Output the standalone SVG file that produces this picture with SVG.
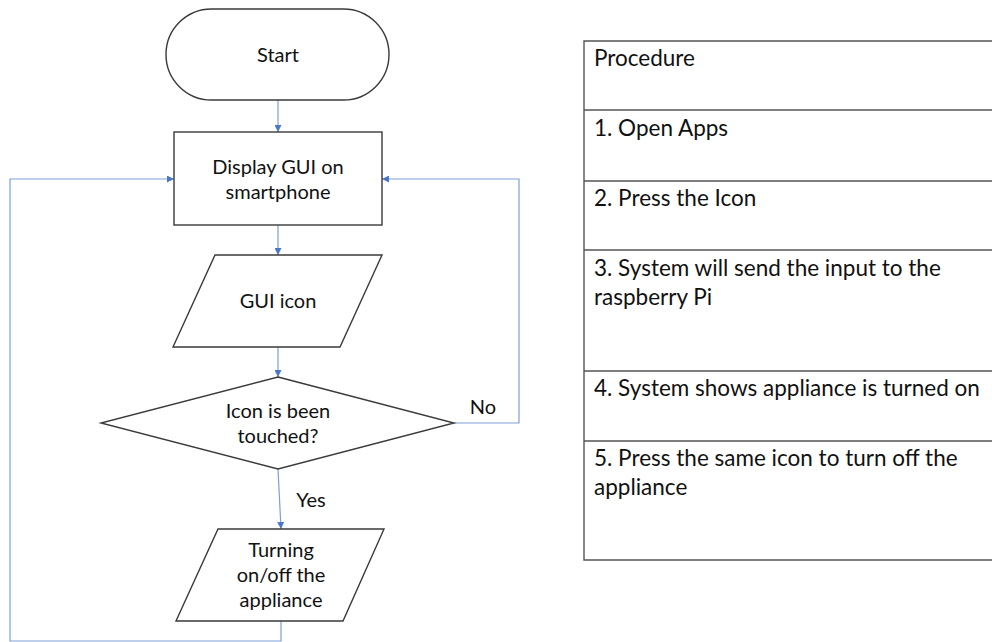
<svg xmlns="http://www.w3.org/2000/svg" width="992" height="642" viewBox="0 0 992 642">
<defs>
<style>
.shape{fill:#fff;stroke:#3a3a3a;stroke-width:1.4}
.conn{fill:none;stroke:#7e9fd8;stroke-width:1.2}
.t{font-family:Lato,"Open Sans",sans-serif;font-size:20px;fill:#111;text-anchor:middle}
.tt{font-family:Lato,"Open Sans",sans-serif;font-size:22.5px;fill:#111}
.grid{fill:none;stroke:#555;stroke-width:1.4}
</style>
<marker id="ah" viewBox="0 0 10 10" refX="10" refY="5" markerWidth="7" markerHeight="7" markerUnits="userSpaceOnUse" orient="auto">
<path d="M0,0 L10,5 L0,10 z" fill="#4a78c8"/>
</marker>
</defs>
<rect width="992" height="642" fill="#fff"/>
<g id="connectors">
<line class="conn" x1="278" y1="100" x2="278" y2="132" marker-end="url(#ah)"/>
<line class="conn" x1="278" y1="225" x2="278" y2="255" marker-end="url(#ah)"/>
<line class="conn" x1="278" y1="347" x2="278" y2="377" marker-end="url(#ah)"/>
<line class="conn" x1="278" y1="469" x2="281" y2="529" marker-end="url(#ah)"/>
<polyline class="conn" points="454,423 519,423 519,179 382,179" marker-end="url(#ah)"/>
<polyline class="conn" points="281,621 281,641 10,641 10,179 174,179" marker-end="url(#ah)"/>
<text class="t" x="483" y="414">No</text>
<text class="t" x="311" y="507">Yes</text>
</g>
<g id="start">
<rect class="shape" x="166" y="9" width="223" height="91" rx="45.5" ry="45.5"/>
<text class="t" x="278" y="62">Start</text>
</g>
<g id="display">
<rect class="shape" x="174" y="132" width="208" height="93"/>
<text class="t" x="278" y="174">Display GUI on</text>
<text class="t" x="278" y="199">smartphone</text>
</g>
<g id="guiicon">
<polygon class="shape" points="215,255 382,255 340,347 173,347"/>
<text class="t" x="278" y="308">GUI icon</text>
</g>
<g id="decision">
<polygon class="shape" points="278,377 454,423 278,469 101,423"/>
<text class="t" x="278" y="418">Icon is been</text>
<text class="t" x="278" y="443">touched?</text>
</g>
<g id="turning">
<polygon class="shape" points="218,529 384,529 343,621 176,621"/>
<text class="t" x="281" y="557">Turning</text>
<text class="t" x="281" y="582">on/off the</text>
<text class="t" x="281" y="607">appliance</text>
</g>
<g id="procedure-table">
<polyline class="grid" points="1000,41 584,41 584,560 1000,560"/>
<line class="grid" x1="584" y1="110" x2="1000" y2="110"/>
<line class="grid" x1="584" y1="181" x2="1000" y2="181"/>
<line class="grid" x1="584" y1="250" x2="1000" y2="250"/>
<line class="grid" x1="584" y1="371" x2="1000" y2="371"/>
<line class="grid" x1="584" y1="441" x2="1000" y2="441"/>
<text class="tt" x="594" y="66">Procedure</text>
<text class="tt" x="594" y="136">1. Open Apps</text>
<text class="tt" x="594" y="206">2. Press the Icon</text>
<text class="tt" x="594" y="276">3. System will send the input to the</text>
<text class="tt" x="594" y="305">raspberry Pi</text>
<text class="tt" x="594" y="396">4. System shows appliance is turned on</text>
<text class="tt" x="594" y="466">5. Press the same icon to turn off the</text>
<text class="tt" x="594" y="495">appliance</text>
</g>
</svg>
